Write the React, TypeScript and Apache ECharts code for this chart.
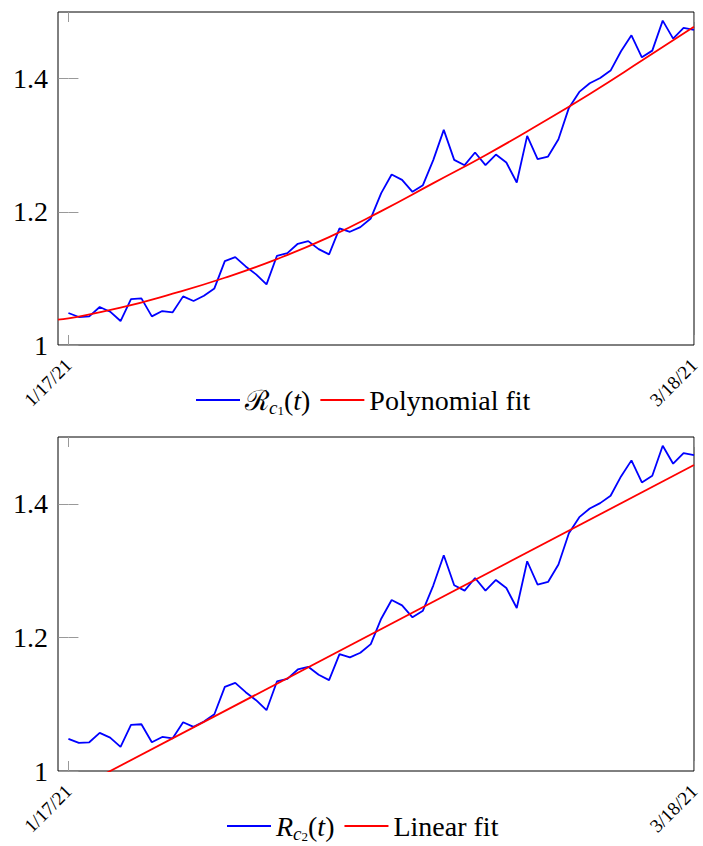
import React, { useEffect, useRef } from 'react';
import * as echarts from 'echarts';

// Day index 0 = 1/17/21, 60 = 3/18/21
const xTickValues = [0, 60];
const xTickLabels = ['1/17/21', '3/18/21'];
const yTickValues = [1, 1.2, 1.4];
const yTickLabels = ['1', '1.2', '1.4'];

const rValues = [
  1.048, 1.042, 1.043, 1.057, 1.05, 1.036, 1.069, 1.07, 1.043, 1.051,
  1.049, 1.073, 1.066, 1.074, 1.085, 1.126, 1.132, 1.118, 1.106, 1.091,
  1.134, 1.138, 1.152, 1.156, 1.144, 1.136, 1.175, 1.17, 1.177, 1.19,
  1.228, 1.256, 1.248, 1.23, 1.24, 1.278, 1.323, 1.278, 1.27, 1.289,
  1.27, 1.286, 1.274, 1.244, 1.314, 1.279, 1.283, 1.309, 1.356, 1.38,
  1.393, 1.401, 1.412, 1.441, 1.465, 1.432, 1.442, 1.487, 1.46, 1.476,
  1.473,
];

const polyFitDays = [-1, 0, 5, 10, 15, 20, 25, 30, 35, 40, 45, 50, 55, 60];
const polyFitValues = [1.038, 1.04, 1.056, 1.077, 1.101, 1.129, 1.162, 1.201, 1.243, 1.285, 1.33, 1.377, 1.427, 1.478];

const linearFitDays = [-1, 60];
const linearFitValues = [0.959, 1.458];

const seriesNames = ['Rc1', 'Polynomial fit', 'Rc2', 'Linear fit'];

const SERIF = 'Liberation Serif, serif';

const legendLabels: Record<string, string> = {
  Rc1: '{R|ℛ}{s|c}{ss|1}{n|(}{i|t}{n|)}',
  'Polynomial fit': '{n|Polynomial fit}',
  Rc2: '{i|R}{s|c}{ss|2}{n|(}{i|t}{n|)}',
  'Linear fit': '{n|Linear fit}',
};

const rich = {
  n: { fontSize: 28, fontFamily: SERIF, lineHeight: 34, verticalAlign: 'middle', color: '#000' },
  i: { fontSize: 28, fontFamily: SERIF, fontStyle: 'italic', lineHeight: 34, verticalAlign: 'middle', color: '#000' },
  R: { fontSize: 28, fontFamily: 'DejaVu Serif, serif', lineHeight: 34, verticalAlign: 'middle', color: '#000' },
  s: { fontSize: 19, fontFamily: SERIF, fontStyle: 'italic', lineHeight: 22, verticalAlign: 'bottom', color: '#000' },
  ss: { fontSize: 13, fontFamily: SERIF, lineHeight: 14, verticalAlign: 'bottom', color: '#000' },
};

function buildOption() {
  const grids = [
    { left: 58, top: 12, width: 636, height: 333 },
    { left: 58, top: 437, width: 636, height: 334 },
  ].map((g) => ({ ...g, show: true, borderColor: '#000', borderWidth: 1, backgroundColor: 'transparent' }));

  const tickStyle = { inside: true, length: 10, lineStyle: { color: '#999', width: 1 } };

  const xAxis: any[] = [];
  const yAxis: any[] = [];
  [0, 1].forEach((g) => {
    ['bottom', 'top'].forEach((pos) => {
      xAxis.push({
        type: 'value',
        gridIndex: g,
        position: pos,
        min: -1,
        max: 60,
        axisLine: { show: false },
        splitLine: { show: false },
        axisTick: { ...tickStyle, customValues: xTickValues },
        axisLabel: {
          show: pos === 'bottom',
          customValues: xTickValues,
          rotate: 45,
          margin: 17,
          fontSize: 19,
          fontFamily: SERIF,
          color: '#000',
          formatter: (v: number) => {
            const k = xTickValues.indexOf(Math.round(v));
            return k >= 0 ? xTickLabels[k] : '';
          },
        },
      });
    });
    ['left', 'right'].forEach((pos) => {
      yAxis.push({
        type: 'value',
        gridIndex: g,
        position: pos,
        min: 1,
        max: 1.5,
        axisLine: { show: false },
        splitLine: { show: false },
        axisTick: { ...tickStyle, customValues: yTickValues },
        axisLabel: {
          show: pos === 'left',
          customValues: yTickValues,
          margin: 10,
          fontSize: 28,
          fontFamily: SERIF,
          color: '#000',
          formatter: (v: number) => {
            const k = yTickValues.findIndex((t) => Math.abs(t - v) < 1e-6);
            return k >= 0 ? yTickLabels[k] : '';
          },
        },
      });
    });
  });

  const lineSeries = (name: string, axis: number, data: number[][], color: string, smooth = false) => ({
    name,
    type: 'line',
    xAxisIndex: axis * 2,
    yAxisIndex: axis * 2,
    data,
    smooth,
    symbol: 'none',
    showSymbol: false,
    clip: true,
    color,
    lineStyle: { color, width: 1.8 },
    itemStyle: { color },
  });

  const rData = rValues.map((v, i) => [i, v]);
  const polyData = polyFitDays.map((d, i) => [d, polyFitValues[i]]);
  const linData = linearFitDays.map((d, i) => [d, linearFitValues[i]]);

  const legendBase = {
    orient: 'horizontal',
    icon: 'rect',
    itemWidth: 44,
    itemHeight: 2,
    itemGap: 10,
    padding: 0,
    selectedMode: false,
    textStyle: { fontSize: 28, fontFamily: SERIF, color: '#000', rich },
    formatter: (name: string) => legendLabels[name] ?? name,
  };

  return {
    animation: false,
    backgroundColor: '#fff',
    grid: grids,
    xAxis,
    yAxis,
    legend: [
      { ...legendBase, data: [seriesNames[0], seriesNames[1]], left: 196, top: 386 },
      { ...legendBase, data: [seriesNames[2], seriesNames[3]], left: 227, top: 812 },
    ],
    series: [
      lineSeries(seriesNames[0], 0, rData, '#0000ff'),
      lineSeries(seriesNames[1], 0, polyData, '#ff0000', true),
      lineSeries(seriesNames[2], 1, rData, '#0000ff'),
      lineSeries(seriesNames[3], 1, linData, '#ff0000'),
    ],
  };
}

export default function App() {
  const ref = useRef<HTMLDivElement>(null);
  useEffect(() => {
    if (!ref.current) return;
    const chart = echarts.init(ref.current, null, { renderer: 'svg' });
    chart.setOption(buildOption() as any);
    return () => chart.dispose();
  }, []);
  return (
    <div
      ref={ref}
      style={{ position: 'fixed', left: 0, top: 0, width: 703, height: 846 }}
    />
  );
}
